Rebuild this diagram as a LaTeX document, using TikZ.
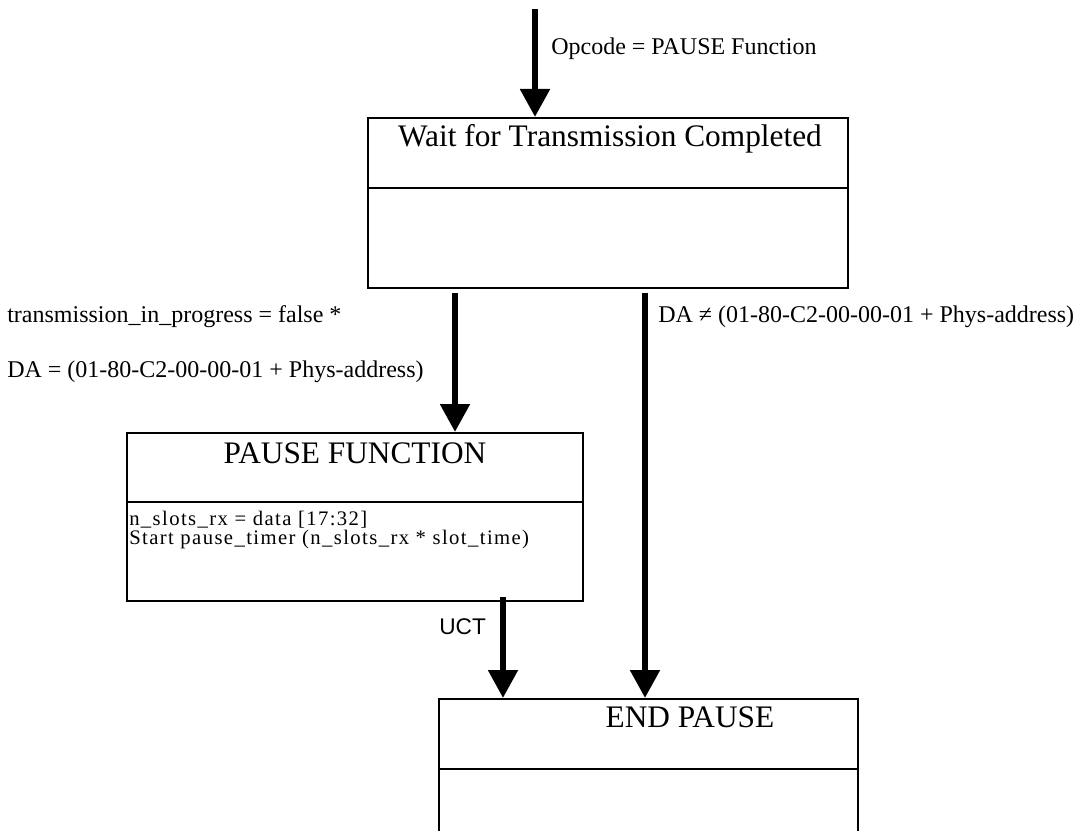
\documentclass[tikz,border=0pt]{standalone}
\usepackage{fontspec}
\setmainfont{Liberation Serif}
\newfontfamily\uctfont{Liberation Sans}
\newfontfamily\actfont[LetterSpace=6.8]{Liberation Serif}
\usetikzlibrary{arrows.meta}

\begin{document}
\begin{tikzpicture}[x=0.75pt, y=-0.75pt,
    box/.style={draw, line width=1.5pt, rectangle, inner sep=0pt},
    flow/.style={line width=4.6pt, -{Triangle[length=21pt, width=21.5pt]}, shorten <=3pt},
    lbl/.style={anchor=base west, inner sep=0pt, font=\fontsize{18}{20}\selectfont},
    title/.style={anchor=base, inner sep=0pt, font=\fontsize{23.5}{26}\selectfont}]
        \clip (0,0) rectangle (1079,831);

        % Draw states
        \node[box, minimum width=360pt, minimum height=127.5pt] (wait) at (608,203) {};
        \node[box, minimum width=342pt, minimum height=126pt] (pause) at (355,517) {};
        \node[box, minimum width=314.25pt, minimum height=127.5pt] (endp) at (648.5,784) {};
        \draw[line width=1.5pt] (wait.west |- 0,188) -- (wait.east |- 0,188);
        \draw[line width=1.5pt] (pause.west |- 0,502) -- (pause.east |- 0,502);
        \draw[line width=1.5pt] (endp.west |- 0,769) -- (endp.east |- 0,769);

        % Titles and actions
        \node[title] (waitT) at (610,147) {Wait for Transmission Completed};
        \node[title] (pauseT) at (355,463) {PAUSE FUNCTION};
        \node[title] (endpT) at (690,727) {END PAUSE};
        \node[lbl, align=left, font=\actfont\fontsize{15.5}{14.25}\selectfont] (act) at (129,544)
            {n\_slots\_rx = data [17:32]\\Start pause\_timer (n\_slots\_rx * slot\_time)};

        % Draw transitions
        \coordinate (in) at (535,9);
        \coordinate (t1) at (455,0);
        \coordinate (t2) at (645,0);
        \coordinate (t3) at (503,0);
        \draw[flow, shorten <=0pt] (in) -- (in |- wait.north);
        \draw[flow] (t1 |- wait.south) -- (t1 |- pause.north);
        \draw[flow] (t2 |- wait.south) -- (t2 |- endp.north);
        \draw[flow, shorten <=-3.5pt] (t3 |- pause.south) -- (t3 |- endp.north);

        % Transition labels
        \node[lbl] (opc) at (551,55) {Opcode = PAUSE Function};
        \node[lbl] (tip) at (7,322) {transmission\_in\_progress = false *};
        \node[lbl] (daeq) at (7,378) {DA = (01-80-C2-00-00-01 + Phys-address)};
        \node[lbl] (dane) at (658,322) {DA ≠ (01-80-C2-00-00-01 + Phys-address)};
        \node[lbl, font=\uctfont\fontsize{17}{19}\selectfont] (uct) at (439,634) {UCT};
      \end{tikzpicture}
\end{document}
